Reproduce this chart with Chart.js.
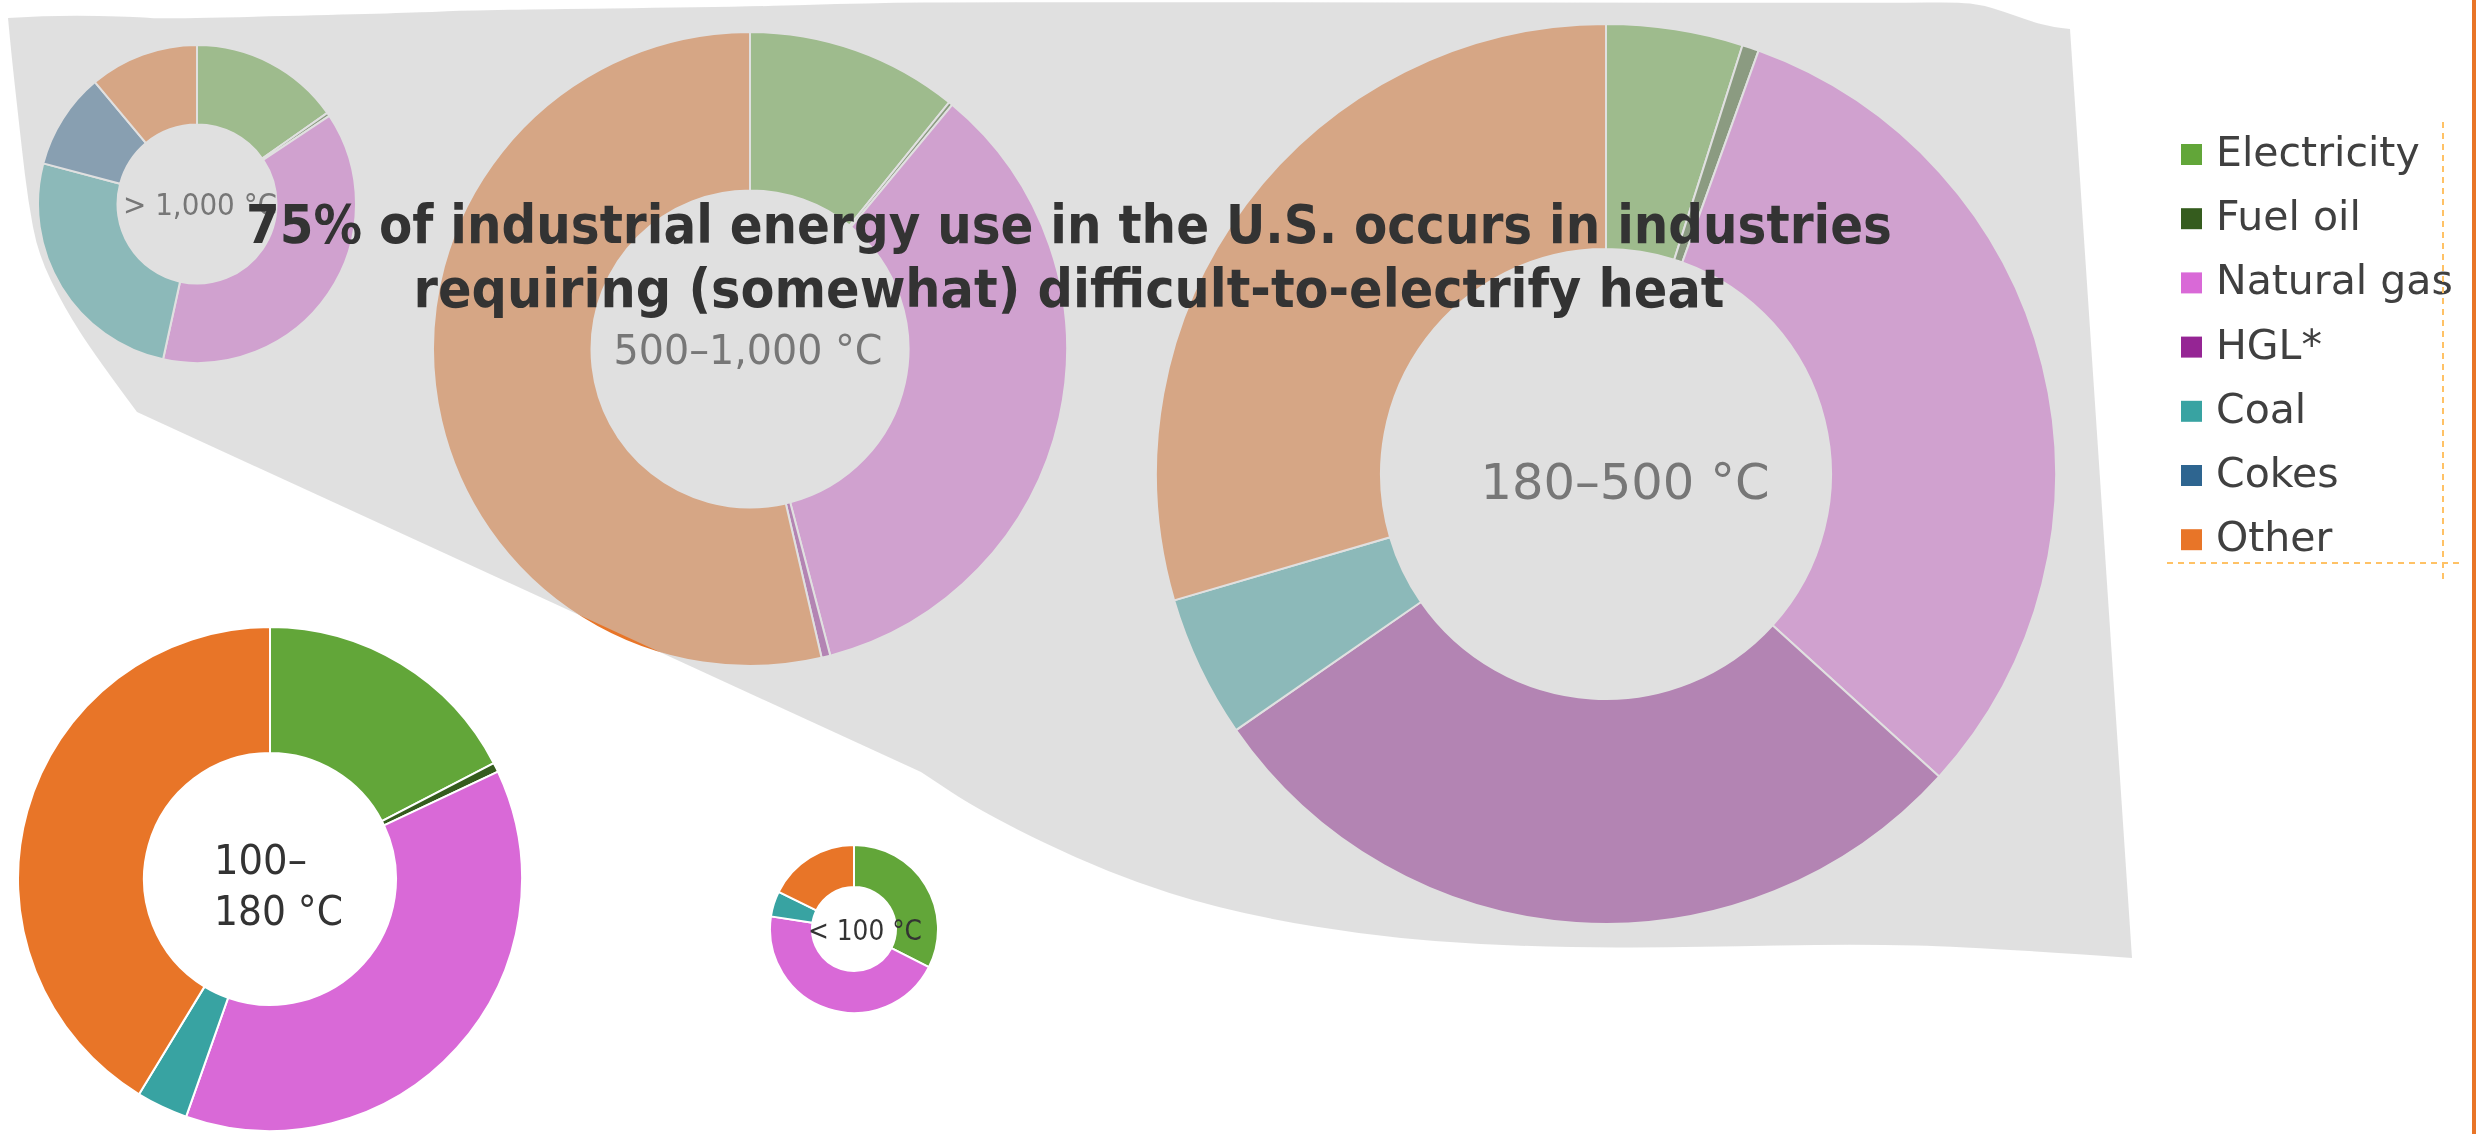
<!DOCTYPE html>
<html>
<head>
<meta charset="utf-8">
<script src="https://cdn.jsdelivr.net/npm/chart.js@4.4.1/dist/chart.umd.min.js"></script>
<style>
  html, body { margin: 0; padding: 0; background: #fff; }
  #page { position: relative; width: 2476px; height: 1134px; overflow: hidden; }
  #page canvas { position: absolute; }
  #overlay { position: absolute; left: 0; top: 0; }
</style>
</head>
<body>
<div id="page">
  <canvas id="ring1000"></canvas>
  <canvas id="ring500"></canvas>
  <canvas id="ring180"></canvas>
  <canvas id="ring100"></canvas>
  <canvas id="ringLow"></canvas>
  <svg id="overlay" width="2476" height="1134" xmlns="http://www.w3.org/2000/svg"></svg>
</div>
<script>
const fuels = ["Electricity", "Fuel oil", "Natural gas", "HGL*", "Coal", "Cokes", "Other"];
const fuelColors = ["#62a639", "#355c1e", "#d969d7", "#952594", "#38a3a2", "#2e6590", "#e87528"];

const ranges = ["> 1,000 °C", "500–1,000 °C", "180–500 °C", "100–180 °C", "< 100 °C"];

// share of energy use by fuel (%), same order as fuels
const over1000 = [15.3, 0.35, 37.8, 0, 25.7, 9.8, 11.1];
const from500 = [10.8, 0.2, 34.9, 0.45, 0, 0, 53.6];
const from180 = [4.9, 0.6, 31.2, 28.6, 5.1, 0, 29.5];
const from100 = [17.4, 0.6, 37.4, 0, 3.3, 0, 41.3];
const under100 = [32.5, 0, 44.9, 0, 4.9, 0, 17.7];

const titleLines = [
  "75% of industrial energy use in the U.S. occurs in industries",
  "requiring (somewhat) difficult-to-electrify heat",
];

// where each ring sits on the page
const rings = [
  { id: "ring1000", data: over1000, cx: 197, cy: 204, r: 159 },
  { id: "ring500", data: from500, cx: 750, cy: 349, r: 317 },
  { id: "ring180", data: from180, cx: 1606, cy: 474, r: 450 },
  { id: "ring100", data: from100, cx: 270, cy: 879, r: 252 },
  { id: "ringLow", data: under100, cx: 854, cy: 929, r: 84 },
];

rings.forEach((ring) => {
  const size = ring.r * 2 + 2;
  const canvas = document.getElementById(ring.id);
  canvas.width = size;
  canvas.height = size;
  canvas.style.left = ring.cx - size / 2 + "px";
  canvas.style.top = ring.cy - size / 2 + "px";
  new Chart(canvas.getContext("2d"), {
    type: "doughnut",
    data: {
      labels: fuels,
      datasets: [
        {
          data: ring.data,
          backgroundColor: fuelColors,
          borderColor: "#ffffff",
          borderWidth: 2,
        },
      ],
    },
    options: {
      responsive: false,
      animation: false,
      cutout: "50%",
      events: [],
      plugins: {
        legend: { display: false },
        tooltip: { enabled: false },
      },
    },
  });
});

// svg layer: grey highlight shape, labels, title, legend
const svg = document.getElementById("overlay");
const NS = "http://www.w3.org/2000/svg";

function add(tag, attrs, text) {
  const el = document.createElementNS(NS, tag);
  for (const k in attrs) el.setAttribute(k, attrs[k]);
  if (text !== undefined) el.textContent = text;
  svg.appendChild(el);
  return el;
}

// smooth line through points (quadratic through midpoints)
function smooth(pts) {
  let d = "";
  for (let i = 1; i < pts.length - 1; i++) {
    const mx = (pts[i][0] + pts[i + 1][0]) / 2;
    const my = (pts[i][1] + pts[i + 1][1]) / 2;
    d += ` Q ${pts[i][0]} ${pts[i][1]} ${mx} ${my}`;
  }
  const last = pts[pts.length - 1];
  return d + ` L ${last[0]} ${last[1]}`;
}

const topEdge = [[8, 18], [55, 15], [142, 17], [158, 19], [410, 13], [474, 10], [742, 7], [868, 3], [979, 2], [1895, 3], [1958, 2], [1982, 5], [2005, 12], [2033, 22], [2053, 27], [2070, 29]];
const bottomEdge = [[2132, 958], [1978, 947], [1854, 944], [1700, 947], [1563, 948], [1398, 940], [1232, 913], [1107, 873], [983, 813], [921, 772]];
const leftEdge = [[137, 412], [96, 357], [64, 307], [38, 254], [28, 200], [22, 150], [12, 60], [8, 18]];

let shape = `M 8 18` + smooth(topEdge);
shape += ` L 2132 958` + smooth(bottomEdge);
shape += ` L 137 412` + smooth(leftEdge) + " Z";
add("path", { d: shape, fill: "rgba(202,202,202,0.58)" });

// centre labels
const labelFont = "DejaVu Sans, sans-serif";
add("text", { x: 200, y: 215, "text-anchor": "middle", "font-family": labelFont, "font-size": 31, fill: "#777", textLength: 154, lengthAdjust: "spacingAndGlyphs" }, ranges[0]);
add("text", { x: 748, y: 364, "text-anchor": "middle", "font-family": labelFont, "font-size": 40, fill: "#777", textLength: 269, lengthAdjust: "spacingAndGlyphs" }, ranges[1]);
add("text", { x: 1625, y: 499, "text-anchor": "middle", "font-family": labelFont, "font-size": 50, fill: "#777", textLength: 289, lengthAdjust: "spacingAndGlyphs" }, ranges[2]);
const split = ranges[3].split("–");
add("text", { x: 214, y: 874, "font-family": labelFont, "font-size": 40, fill: "#333", textLength: 93, lengthAdjust: "spacingAndGlyphs" }, split[0] + "–");
add("text", { x: 214, y: 925, "font-family": labelFont, "font-size": 40, fill: "#333", textLength: 129, lengthAdjust: "spacingAndGlyphs" }, split[1]);
add("text", { x: 865, y: 940, "text-anchor": "middle", "font-family": labelFont, "font-size": 29, fill: "#333", textLength: 114, lengthAdjust: "spacingAndGlyphs" }, ranges[4]);

// title
add("text", { x: 1069, y: 243, "text-anchor": "middle", "font-family": labelFont, "font-weight": "bold", "font-size": 54, fill: "#333", textLength: 1646, lengthAdjust: "spacingAndGlyphs" }, titleLines[0]);
add("text", { x: 1069, y: 307, "text-anchor": "middle", "font-family": labelFont, "font-weight": "bold", "font-size": 54, fill: "#333", textLength: 1311, lengthAdjust: "spacingAndGlyphs" }, titleLines[1]);

// legend
fuels.forEach((name, i) => {
  const base = 166 + i * 64.2;
  add("rect", { x: 2181, y: base - 22, width: 21, height: 21, fill: fuelColors[i] });
  add("text", { x: 2216, y: base, "font-family": labelFont, "font-size": 41, fill: "#404040" }, name);
});
add("line", { x1: 2443, y1: 122, x2: 2443, y2: 582, stroke: "#ffc266", "stroke-width": 2, "stroke-dasharray": "6 5" });
add("line", { x1: 2167, y1: 563, x2: 2462, y2: 563, stroke: "#ffc266", "stroke-width": 2, "stroke-dasharray": "6 5" });

// orange rule on the right edge
add("rect", { x: 2472, y: 0, width: 4, height: 1134, fill: "#e87528" });
</script>
</body>
</html>
